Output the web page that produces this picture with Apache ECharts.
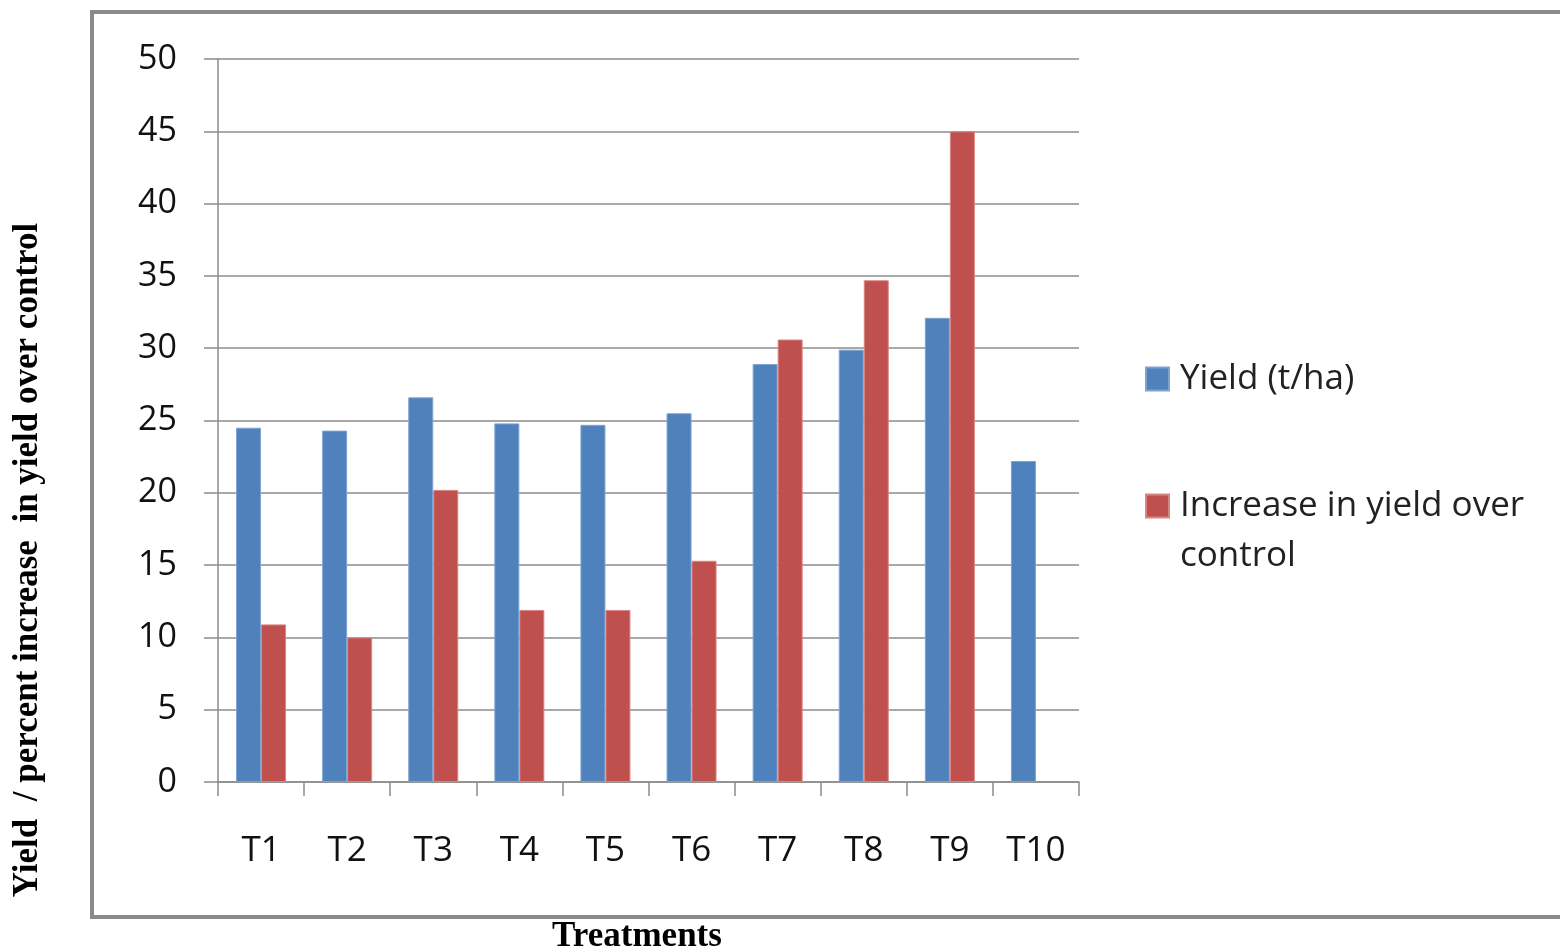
<!DOCTYPE html>
<html>
<head>
<meta charset="utf-8">
<script src="https://cdn.jsdelivr.net/npm/echarts@6/dist/echarts.min.js"></script>
<style>
  html, body { margin: 0; padding: 0; background: #fff; }
  #chart { width: 1560px; height: 952px; }
</style>
</head>
<body>
<div id="chart"></div>
<script>
// Treatments and the two measured series
const categories = ['T1', 'T2', 'T3', 'T4', 'T5', 'T6', 'T7', 'T8', 'T9', 'T10'];
const yieldValues = [24.5, 24.3, 26.6, 24.8, 24.7, 25.5, 28.9, 29.9, 32.1, 22.2];
const increaseValues = [10.9, 10.0, 20.2, 11.9, 11.9, 15.3, 30.6, 34.7, 45.0, null];
const seriesNames = ['Yield (t/ha)', 'Increase in yield over control'];
const yTicks = { min: 0, max: 50, interval: 5 };

const labelFont = '"Open Sans", Lato, sans-serif';
const titleFont = '"Liberation Serif", "Times New Roman", serif';
const axisGray = '#8c8c8c';

const chart = echarts.init(document.getElementById('chart'));
chart.setOption({
  animation: false,
  backgroundColor: '#ffffff',
  grid: { left: 218, right: 481, top: 59, bottom: 170, containLabel: false },
  legend: {
    orient: 'vertical',
    left: 1145,
    top: 354,
    padding: 0,
    itemWidth: 23,
    itemHeight: 23,
    itemGap: 27,
    icon: 'rect',
    data: seriesNames,
    formatter: function (name) {
      // leading blank line keeps the marker level with the first text line
      return name === seriesNames[1] ? '\nIncrease in yield over\ncontrol' : name;
    },
    textStyle: { fontFamily: labelFont, fontSize: 35, color: '#222', lineHeight: 50, padding: [0, 0, 0, 6] }
  },
  xAxis: {
    type: 'category',
    data: categories,
    axisLine: { lineStyle: { color: axisGray, width: 1.5 } },
    axisTick: { show: true, length: 14, lineStyle: { color: axisGray, width: 1.5 } },
    axisLabel: { fontFamily: labelFont, fontSize: 35, color: '#111', margin: 52 },
    splitLine: { show: false }
  },
  yAxis: {
    type: 'value',
    min: yTicks.min,
    max: yTicks.max,
    interval: yTicks.interval,
    axisLine: { show: true, lineStyle: { color: axisGray, width: 1.5 } },
    axisTick: { show: true, length: 14, lineStyle: { color: axisGray, width: 1.5 } },
    axisLabel: { fontFamily: labelFont, fontSize: 34, color: '#111', margin: 41 },
    splitLine: { show: true, lineStyle: { color: axisGray, width: 1.5 } }
  },
  series: [
    {
      name: seriesNames[0],
      type: 'bar',
      data: yieldValues,
      barWidth: 25,
      barGap: '0%',
      itemStyle: { color: '#4F81BD', borderColor: '#7ea3d3', borderWidth: 1 }
    },
    {
      name: seriesNames[1],
      type: 'bar',
      data: increaseValues,
      barWidth: 25,
      barGap: '0%',
      itemStyle: { color: '#C0504D', borderColor: '#d98683', borderWidth: 1 }
    }
  ],
  graphic: [
    {
      type: 'rect',
      shape: { x: 92, y: 12, width: 1500, height: 905 },
      style: { fill: 'none', stroke: '#8a8a8a', lineWidth: 4 },
      silent: true
    },
    {
      type: 'text',
      x: 28,
      y: 560,
      rotation: Math.PI / 2,
      style: {
        text: 'Yield  / percent increase  in yield over control',
        font: 'bold 35px ' + titleFont,
        fill: '#000',
        align: 'center',
        verticalAlign: 'middle'
      }
    },
    {
      type: 'text',
      x: 637,
      y: 937,
      style: {
        text: 'Treatments',
        font: 'bold 35px ' + titleFont,
        fill: '#000',
        align: 'center',
        verticalAlign: 'middle'
      }
    }
  ]
});
</script>
</body>
</html>
